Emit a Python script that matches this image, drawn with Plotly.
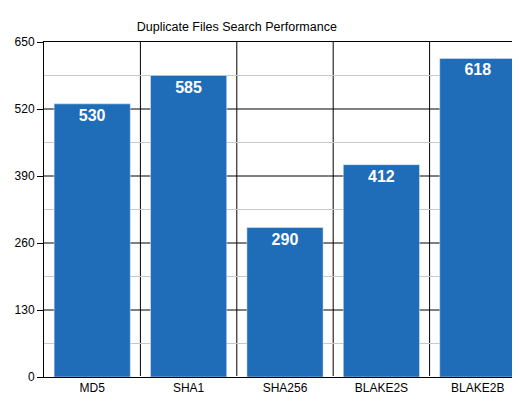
import plotly.graph_objects as go

categories = ["MD5", "SHA1", "SHA256", "BLAKE2S", "BLAKE2B"]
values = [530, 585, 290, 412, 618]
y_ticks = [0, 130, 260, 390, 520, 650]
minor_lines = [65, 195, 325, 455, 585]

fig = go.Figure(go.Bar(
    x=categories, y=values, marker_color="#1f6cb8", width=0.79,
    text=[f"<b>{v}</b>" for v in values], textposition="inside", insidetextanchor="end",
    textfont=dict(color="white", size=16, family="Arial"),
))
# category separators and horizontal grid drawn underneath the bars
for i in range(len(categories) - 1):
    fig.add_shape(type="line", xref="x", yref="paper", x0=i + 0.5, x1=i + 0.5,
                  y0=0, y1=1, line=dict(color="black", width=1), layer="below")
for v in y_ticks[1:-1]:
    fig.add_shape(type="line", xref="paper", yref="y", x0=0, x1=1, y0=v, y1=v,
                  line=dict(color="black", width=1), layer="below")
for v in minor_lines:
    fig.add_shape(type="line", xref="paper", yref="y", x0=0, x1=1, y0=v, y1=v,
                  line=dict(color="#c8c8c8", width=1), layer="below")

fig.update_layout(
    width=520, height=401, margin=dict(l=36, r=2, t=34, b=32),
    plot_bgcolor="white", paper_bgcolor="white", showlegend=False,
    font=dict(family="Arial", size=12, color="black"),
    title=dict(text="Duplicate Files Search Performance", x=0.44, y=0.965,
               font=dict(size=12.5)),
)
fig.update_xaxes(showline=True, linecolor="black", mirror=True, ticks="",
                 range=[-0.5, 4.5])
fig.update_yaxes(range=[0, 650], tickvals=y_ticks, showgrid=False,
                 showline=True, linecolor="black", mirror=True, ticks="outside",
                 ticklen=6, tickcolor="black")
fig.write_html("out.html")
